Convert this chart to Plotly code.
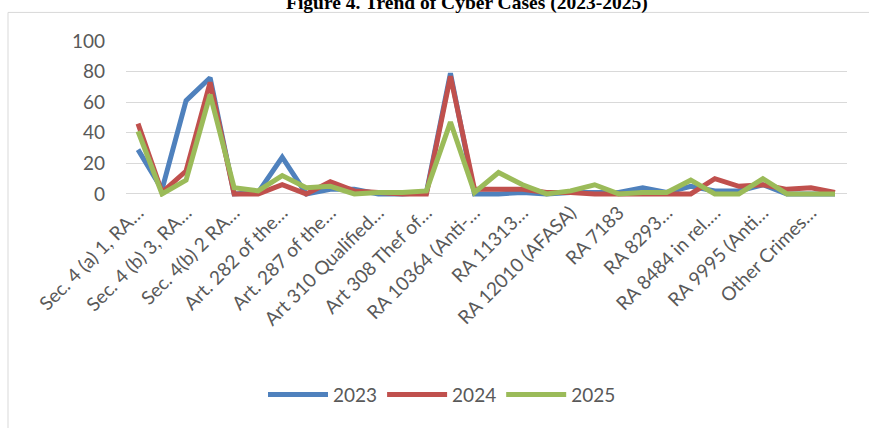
import plotly.graph_objects as go

# Crime categories (only every other category carries a visible label)
n_categories = 30
category_labels = [
    "Sec. 4 (a) 1, RA…",
    "Sec. 4 (b) 3, RA…",
    "Sec. 4(b) 2 RA…",
    "Art. 282 of the…",
    "Art. 287 of the…",
    "Art 310 Qualified…",
    "Art 308 Thef of…",
    "RA 10364 (Anti-…",
    "RA 11313…",
    "RA 12010 (AFASA)",
    "RA 7183",
    "RA 8293…",
    "RA 8484 in rel.…",
    "RA 9995 (Anti…",
    "Other Crimes…",
]

cases_2023 = [29, 3, 61, 76, 0, 1, 24, 0, 3, 3,
              0, 0, 1, 79, 0, 0, 1, 0, 1, 1,
              1, 4, 1, 5, 2, 2, 6, 0, 0, 0]
cases_2024 = [46, 1, 15, 73, 0, 0, 6, 0, 8, 2,
              1, 0, 0, 77, 3, 3, 3, 1, 1, 0,
              0, 0, 0, 0, 10, 5, 6, 3, 4, 1]
cases_2025 = [41, 0, 9, 65, 4, 2, 12, 4, 5, 0,
              1, 1, 2, 47, 1, 14, 6, 0, 2, 6,
              0, 1, 1, 9, 0, 0, 10, 0, 0, 0]

series = [
    ("2023", cases_2023, "#4F81BD"),
    ("2024", cases_2024, "#C0504D"),
    ("2025", cases_2025, "#9BBB59"),
]

W, H = 869, 428
L, R, T, B = 126, 22, 40.7, 230.6
PW, PH = W - L - R, H - T - B


def px_x(x):
    return (x - L) / PW


def px_y(y):
    return 1 - (y - T) / PH


fig = go.Figure()
x_vals = list(range(n_categories))
for name, vals, color in series:
    fig.add_trace(go.Scatter(
        x=x_vals, y=vals, name=name, mode="lines",
        line=dict(color=color, width=5),
    ))

tick_font = dict(family="Lato, sans-serif", size=19, color="#595959")

fig.update_layout(
    width=W, height=H,
    margin=dict(l=L, r=R, t=T, b=B, pad=0),
    paper_bgcolor="white", plot_bgcolor="white",
    showlegend=True,
    legend=dict(
        orientation="h", x=px_x(442), y=px_y(396),
        xanchor="center", yanchor="middle",
        font=tick_font, itemwidth=60, tracegroupgap=0,
    ),
    xaxis=dict(
        range=[-0.5, n_categories - 0.5],
        tickmode="array",
        tickvals=list(range(0, n_categories, 2)),
        ticktext=category_labels,
        tickangle=-45, tickfont=tick_font,
        showgrid=False, zeroline=False, showline=False, ticks="",
    ),
    yaxis=dict(
        range=[-2, 100], tickvals=[0, 20, 40, 60, 80, 100],
        tickfont=tick_font, ticklabelstandoff=20,
        showgrid=True, gridcolor="#D9D9D9", gridwidth=1,
        zeroline=False, showline=False, ticks="",
    ),
    shapes=[
        dict(type="line", xref="paper", yref="paper",
             x0=px_x(8), x1=px_x(W + 5), y0=px_y(12), y1=px_y(12),
             line=dict(color="#D9D9D9", width=1)),
        dict(type="line", xref="paper", yref="paper",
             x0=px_x(8), x1=px_x(8), y0=px_y(12), y1=px_y(H + 5),
             line=dict(color="#D9D9D9", width=1)),
    ],
    annotations=[
        dict(text="<b>Figure 4. Trend of Cyber Cases (2023-2025)</b>",
             xref="paper", yref="paper", x=px_x(467), y=px_y(3),
             xanchor="center", yanchor="middle", showarrow=False,
             font=dict(family="Liberation Serif, Times New Roman, serif",
                       size=19.5, color="black")),
    ],
)

fig.write_html("out.html")
